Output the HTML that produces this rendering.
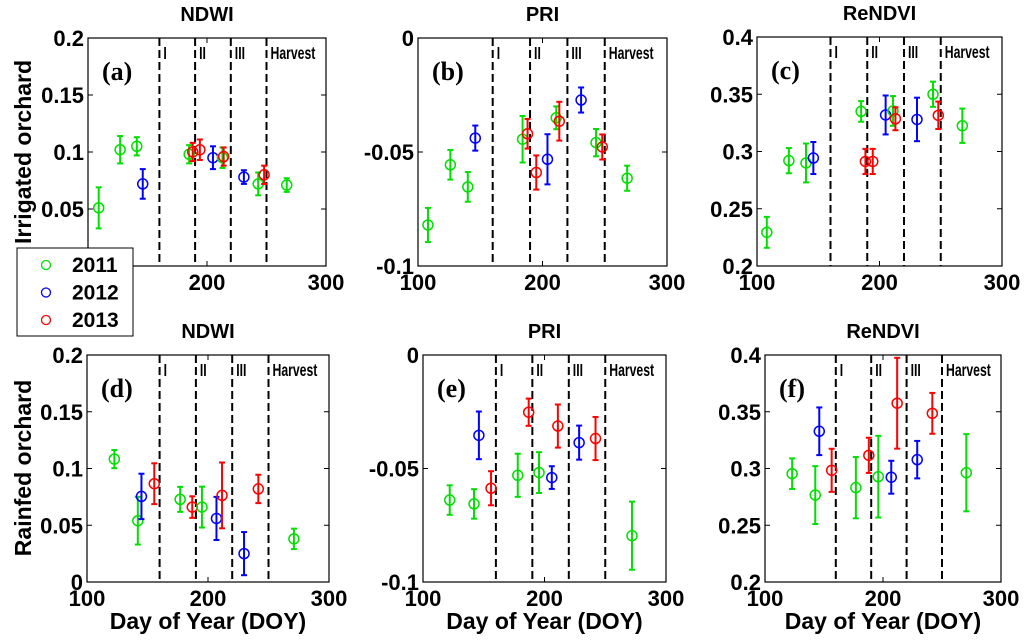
<!DOCTYPE html>
<html><head><meta charset="utf-8">
<style>
html,body{margin:0;padding:0;background:#fff;}
svg{display:block;font-family:"Liberation Sans",Arial,sans-serif;}
</style></head>
<body>
<svg id="fig" width="1024" height="640" viewBox="0 0 1024 640"></svg>
<script>
// ---- data (DOY, value, half error, year) ----
const aDoy=[109,127,141,146,185,188,194,205,213,214,231,243,248,267];
const aVal=[0.051,0.102,0.105,0.072,0.098,0.100,0.102,0.095,0.095,0.096,0.078,0.072,0.080,0.071];
const aErr=[0.018,0.012,0.008,0.013,0.008,0.008,0.009,0.010,0.009,0.008,0.006,0.010,0.008,0.006];
const aYear=[2011,2011,2011,2012,2011,2013,2013,2012,2011,2013,2012,2011,2013,2011];

const bDoy=[108,126,140,146,184,188,195,204,211,213.5,231,243,248,268];
const bVal=[-0.082,-0.0556,-0.0653,-0.0439,-0.0444,-0.042,-0.059,-0.0532,-0.035,-0.0365,-0.0272,-0.0459,-0.0478,-0.0615];
const bErr=[0.0075,0.0065,0.0065,0.0055,0.0102,0.0065,0.0075,0.011,0.005,0.0085,0.0055,0.006,0.0055,0.0055];
const bYear=[2011,2011,2011,2012,2011,2013,2013,2012,2011,2013,2012,2011,2013,2011];

const cDoy=[108,126,140,146,185,188.5,194.5,205,211,213,230.6,243.7,248,267.6];
const cVal=[0.2294,0.292,0.290,0.2943,0.335,0.2913,0.2913,0.3319,0.3354,0.3286,0.328,0.350,0.3316,0.3225];
const cErr=[0.0135,0.011,0.017,0.014,0.009,0.011,0.011,0.017,0.013,0.010,0.019,0.011,0.012,0.015];
const cYear=[2011,2011,2011,2012,2011,2013,2013,2012,2011,2013,2012,2011,2013,2011];

const dDoy=[122.6,142,145,155.6,177,187,195,207,211.6,229.8,241.6,271];
const dVal=[0.1083,0.054,0.0754,0.0866,0.0728,0.066,0.066,0.056,0.0763,0.025,0.082,0.038];
const dErr=[0.008,0.021,0.020,0.018,0.011,0.0095,0.018,0.019,0.029,0.019,0.0125,0.009];
const dYear=[2011,2011,2012,2013,2011,2013,2011,2012,2013,2012,2013,2011];

const eDoy=[122,142,146,156,178,187,195.5,206,211,228.5,242,272];
const eVal=[-0.0639,-0.0656,-0.0354,-0.0587,-0.053,-0.0252,-0.0518,-0.054,-0.0313,-0.0386,-0.0368,-0.0796];
const eErr=[0.0065,0.0065,0.0105,0.0075,0.0095,0.006,0.009,0.005,0.0095,0.0075,0.0095,0.015];
const eYear=[2011,2011,2012,2013,2011,2013,2011,2012,2013,2012,2013,2011];

const fDoy=[123,142.6,146,156.5,177,188,196,207,212,229,241.8,270.6];
const fVal=[0.2954,0.2766,0.3328,0.2984,0.2831,0.3116,0.2928,0.2923,0.3575,0.3078,0.3486,0.2963];
const fErr=[0.0135,0.0255,0.021,0.019,0.027,0.0155,0.036,0.0145,0.040,0.0165,0.018,0.034];
const fYear=[2011,2011,2012,2013,2011,2013,2011,2012,2013,2012,2013,2011];

const stageDoy=[160,190,220,250];
const stageNames=["I","II","III","Harvest"];
const xTicks=[100,200,300];
const ndwiTicks=[0,0.05,0.1,0.15,0.2];
const ndwiLabels=["0","0.05","0.1","0.15","0.2"];
const priTicks=[-0.1,-0.05,0];
const priLabels=["-0.1","-0.05","0"];
const rendviTicks=[0.2,0.25,0.3,0.35,0.4];
const rendviLabels=["0.2","0.25","0.3","0.35","0.4"];
const years=[2011,2012,2013];
const yearColors={2011:"#00e000",2012:"#0000ff",2013:"#ff0000"};

const NS="http://www.w3.org/2000/svg";
const svg=document.getElementById('fig');
function mk(tag,attrs,parent){const e=document.createElementNS(NS,tag);for(const k in attrs)e.setAttribute(k,attrs[k]);(parent||svg).appendChild(e);return e;}

const panels=[
 {id:"a",title:"NDWI",box:[88,38,326,266],ymin:0,ymax:0.2,ticks:ndwiTicks,labels:ndwiLabels,doy:aDoy,val:aVal,err:aErr,yr:aYear,hideZero:true},
 {id:"b",title:"PRI",box:[418,38,667,266],ymin:-0.1,ymax:0,ticks:priTicks,labels:priLabels,doy:bDoy,val:bVal,err:bErr,yr:bYear},
 {id:"c",title:"ReNDVI",box:[757,37,1002,266],ymin:0.2,ymax:0.4,ticks:rendviTicks,labels:rendviLabels,doy:cDoy,val:cVal,err:cErr,yr:cYear},
 {id:"d",title:"NDWI",box:[87,355,329,582],ymin:0,ymax:0.2,ticks:ndwiTicks,labels:ndwiLabels,doy:dDoy,val:dVal,err:dErr,yr:dYear,xt:true},
 {id:"e",title:"PRI",box:[423,355,666,582],ymin:-0.1,ymax:0,ticks:priTicks,labels:priLabels,doy:eDoy,val:eVal,err:eErr,yr:eYear,xt:true},
 {id:"f",title:"ReNDVI",box:[765,355,1001,582],ymin:0.2,ymax:0.4,ticks:rendviTicks,labels:rendviLabels,doy:fDoy,val:fVal,err:fErr,yr:fYear,xt:true}
];

panels.forEach(p=>{
 const [x0,y0,x1,y1]=p.box;
 const g=mk('g',{});
 
 
 const X=d=>x0+(d-100)/200*(x1-x0);
 const Y=v=>y1-(v-p.ymin)/(p.ymax-p.ymin)*(y1-y0);
 const r=mk('rect',{x:x0,y:y0,width:x1-x0,height:y1-y0,fill:'#fff',stroke:'#000','stroke-width':1.2},g);
 
 
 const t=mk('text',{x:(x0+x1)/2,y:y0-17,'text-anchor':'middle','font-size':20,'font-weight':'bold'},g);
 t.textContent=p.title;
 
 
 xTicks.forEach(v=>{
  const xx=X(v);
  mk('line',{x1:xx,y1:y1,x2:xx,y2:y1-5,stroke:'#000','stroke-width':1},g);
  mk('line',{x1:xx,y1:y0,x2:xx,y2:y0+5,stroke:'#000','stroke-width':1},g);
  const tl=mk('text',{x:xx,y:y1+24,'text-anchor':'middle','font-size':22,'font-weight':'bold'},g);
  tl.textContent=v;
  
  
 });
 p.ticks.forEach((v,i)=>{
  const yy=Y(v);
  mk('line',{x1:x0,y1:yy,x2:x0+5,y2:yy,stroke:'#000','stroke-width':1},g);
  mk('line',{x1:x1,y1:yy,x2:x1-5,y2:yy,stroke:'#000','stroke-width':1},g);
  if(p.hideZero && i===0) return;
  const tl=mk('text',{x:x0-4,y:yy+8,'text-anchor':'end','font-size':22,'font-weight':'bold'},g);
  tl.textContent=p.labels[i];
  
  
 });
 stageDoy.forEach((d,i)=>{
  const xx=X(d);
  const l=mk('line',{x1:xx,y1:y0,x2:xx,y2:y1,stroke:'#000','stroke-width':2,'stroke-dasharray':'8 4'},g);
  
  
  const tl=mk('text',{x:0,y:0,'font-size':18,'font-weight':'bold',transform:`translate(${xx+4},${y0+21}) scale(0.68,1)`},g);
  tl.textContent=stageNames[i];
  
  
 });
 const pl=mk('text',{x:x0+14,y:y0+42,'font-size':26,'font-weight':'bold','font-family':'"Liberation Serif",serif'},g);
 pl.textContent='('+p.id+')';
 
 
 p.doy.forEach((d,i)=>{
  const c=yearColors[p.yr[i]];
  const xx=X(d),yy=Y(p.val[i]),yt=Y(p.val[i]+p.err[i]),yb=Y(p.val[i]-p.err[i]);
  const pg=mk('g',{stroke:c,fill:'none','stroke-width':2},g);
  
  
  mk('line',{x1:xx,y1:yt,x2:xx,y2:yb},pg);
  mk('line',{x1:xx-3,y1:yt,x2:xx+3,y2:yt},pg);
  mk('line',{x1:xx-3,y1:yb,x2:xx+3,y2:yb},pg);
  mk('circle',{cx:xx,cy:yy,r:5,'stroke-width':1.5},pg);
 });
 if(p.xt){
  const xl=mk('text',{x:(x0+x1)/2,y:629,'text-anchor':'middle','font-size':23,'font-weight':'bold'},g);
  xl.textContent='Day of Year (DOY)';
  
  
 }
});
const yl1=mk('text',{x:0,y:0,'text-anchor':'middle','font-size':23,'font-weight':'bold',transform:'translate(31,152) rotate(-90)'});
yl1.textContent='Irrigated orchard';


const yl2=mk('text',{x:0,y:0,'text-anchor':'middle','font-size':23,'font-weight':'bold',transform:'translate(31,468) rotate(-90)'});
yl2.textContent='Rainfed orchard';


const lg=mk('g',{});


mk('rect',{x:17,y:248,width:116,height:88,fill:'#fff',stroke:'#000','stroke-width':1},lg);
years.forEach((yv,i)=>{
 const e=mk('g',{},lg);
 
 
 const cy=265+i*27.5;
 mk('circle',{cx:46,cy:cy,r:4.5,fill:'none',stroke:yearColors[yv],'stroke-width':1.3},e);
 const tx=mk('text',{x:72,y:cy+7,'font-size':21,'font-weight':'bold'},e);
 tx.textContent=yv;
});
</script>
</body></html>
